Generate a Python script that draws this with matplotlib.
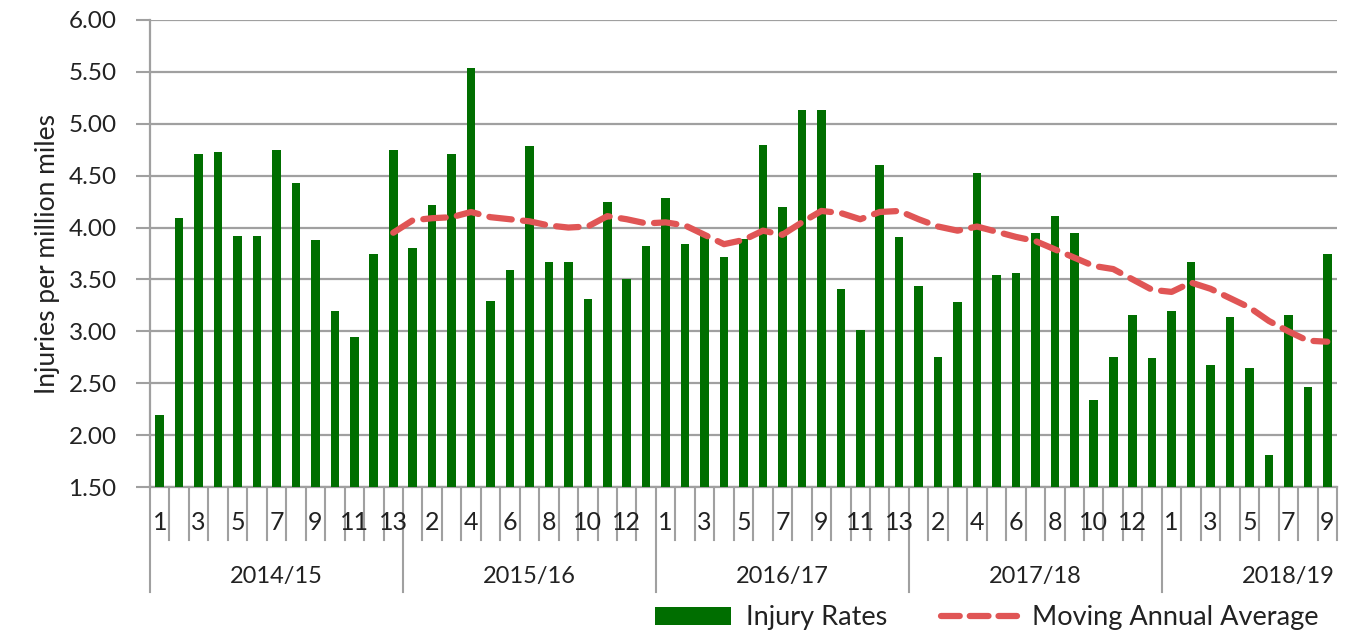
import matplotlib
matplotlib.use("Agg")
import matplotlib.pyplot as plt
import matplotlib.transforms as mtransforms
from matplotlib.patches import Patch
from matplotlib.lines import Line2D
import numpy as np

plt.rcParams['font.family'] = ['Lato', 'DejaVu Sans']

years = ["2014/15", "2015/16", "2016/17", "2017/18", "2018/19"]
periods_per_year = [13, 13, 13, 13, 9]

injury_rates = [
    # 2014/15
    2.19, 4.09, 4.71, 4.73, 3.92, 3.92, 4.75, 4.43, 3.88, 3.20, 2.95, 3.75, 4.75,
    # 2015/16
    3.80, 4.22, 4.71, 5.54, 3.29, 3.59, 4.79, 3.67, 3.67, 3.31, 4.25, 3.50, 3.82,
    # 2016/17
    4.28, 3.84, 3.94, 3.72, 3.89, 4.80, 4.20, 5.13, 5.13, 3.41, 3.01, 4.60, 3.91,
    # 2017/18
    3.44, 2.75, 3.28, 4.53, 3.54, 3.56, 3.95, 4.11, 3.95, 2.34, 2.75, 3.16, 2.74,
    # 2018/19
    3.20, 3.67, 2.68, 3.14, 2.65, 1.81, 3.16, 2.46, 3.75,
]

# Moving annual average starts at 2014/15 period 13
mov_avg_start = 12
moving_avg = [
    3.95,
    4.07, 4.09, 4.10, 4.15, 4.10, 4.08, 4.06, 4.02, 4.00, 4.01, 4.11, 4.08, 4.04,
    4.05, 4.02, 3.93, 3.84, 3.88, 3.97, 3.93, 4.05, 4.16, 4.14, 4.08, 4.15, 4.16,
    4.08, 4.01, 3.97, 4.01, 3.96, 3.91, 3.87, 3.79, 3.71, 3.63, 3.60, 3.50, 3.40,
    3.38, 3.47, 3.41, 3.32, 3.23, 3.10, 3.00, 2.91, 2.90,
]

yticks = [1.5, 2.0, 2.5, 3.0, 3.5, 4.0, 4.5, 5.0, 5.5, 6.0]

green = '#006e00'
red = '#e05555'
grid_c = '#a0a0a0'
text_c = '#222222'

fig = plt.figure(figsize=(13.64, 6.34), dpi=100)
ax = fig.add_axes([150/1364, 1 - 487/634, (1337-150)/1364, (487-20)/634])

n = len(injury_rates)
x = np.arange(n)
ax.bar(x, [v - 1.5 for v in injury_rates], bottom=1.5, width=0.44, color=green, zorder=3)
ax.plot(np.arange(mov_avg_start, mov_avg_start + len(moving_avg)), moving_avg,
        color=red, lw=4.5, ls=(0, (3.6, 1.8)), dash_capstyle='round', zorder=4)

ax.set_xlim(-0.5, n - 0.5)
ax.set_ylim(1.5, 6.0)
ax.set_yticks(yticks)
ax.set_yticklabels([f"{v:.2f}" for v in yticks], fontsize=17.5, color=text_c)
ax.tick_params(axis='y', length=10, width=1.5, color=grid_c, pad=14)
ax.yaxis.grid(True, color=grid_c, lw=1.6, zorder=0)
ax.set_axisbelow(True)
ax.set_xticks([])
for s in ['top', 'right']:
    ax.spines[s].set_visible(False)
for s in ['left', 'bottom']:
    ax.spines[s].set_color(grid_c)
    ax.spines[s].set_linewidth(1.6)

ax.set_ylabel("Injuries per million miles", fontsize=19, color=text_c, labelpad=6)

# Category axis: period labels and group labels
trans = mtransforms.blended_transform_factory(ax.transData, ax.transAxes)
ax_h_px = 487 - 20
def yfrac(px):
    return -(px - 487) / ax_h_px

group_bounds = [-0.5]
for cnt in periods_per_year:
    group_bounds.append(group_bounds[-1] + cnt)

for b in np.arange(-0.5, n, 1.0):
    long = any(abs(b - gb) < 1e-6 for gb in group_bounds[:-1])
    ybot = yfrac(592) if long else yfrac(540)
    ax.plot([b, b], [0, ybot], transform=trans, color=grid_c, lw=1.5, clip_on=False)

idx = 0
for yi, cnt in enumerate(periods_per_year):
    for p in range(1, cnt + 1):
        if idx % 2 == 0:
            ax.text(idx, yfrac(522), str(p), transform=trans, ha='center', va='center',
                    fontsize=18, color=text_c)
        idx += 1
    start = group_bounds[yi]
    center = start + 13 / 2
    ax.text(center, yfrac(577), years[yi], transform=trans, ha='center', va='center',
            fontsize=17, color=text_c)

handles = [Patch(facecolor=green, edgecolor='none'),
           Line2D([0], [0], color=red, lw=4.5, ls=(0, (3.0, 1.6)), dash_capstyle='round')]
fig.legend(handles, ["Injury Rates", "Moving Annual Average"], loc='center',
           bbox_to_anchor=(987/1364, 1 - 618/634), ncol=2, frameon=False, fontsize=19.5,
           handlelength=2.8, handleheight=0.6, columnspacing=2.0, handletextpad=0.55,
           labelcolor=text_c)

fig.savefig("out.png", dpi=100)
